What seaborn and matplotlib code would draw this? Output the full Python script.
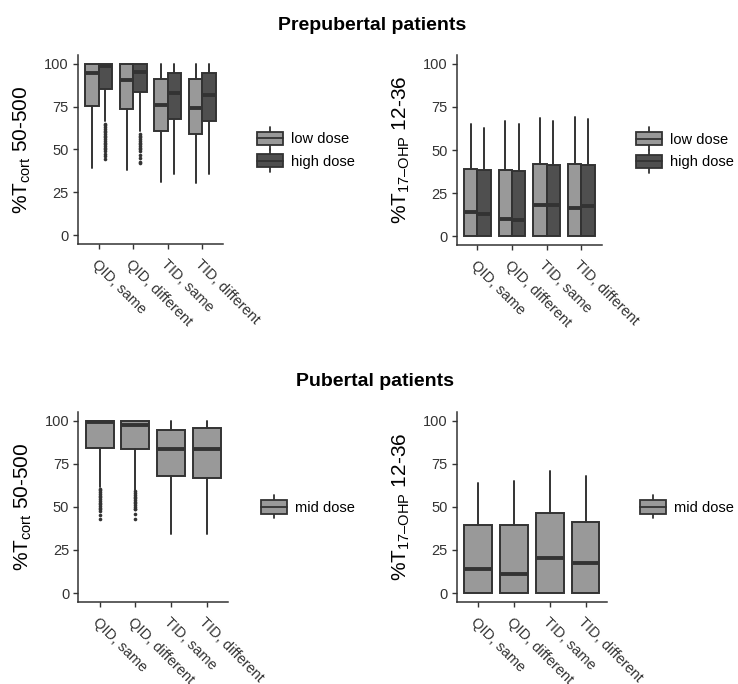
import matplotlib
matplotlib.use("Agg")
import matplotlib.pyplot as plt
import seaborn as sns
from matplotlib.legend_handler import HandlerBase
from matplotlib.patches import Rectangle, Patch
from matplotlib.lines import Line2D

# ---------------------------------------------------------------- data
categories = ["QID, same", "QID, different", "TID, same", "TID, different"]

# Prepubertal, %T cort 50-500
pre_cort_low_q1 = [75.4, 73.3, 60.9, 58.8]
pre_cort_low_med = [94.5, 90.7, 75.8, 74.3]
pre_cort_low_q3 = [100.0, 100.0, 91.3, 91.1]
pre_cort_low_wlo = [39.1, 38.1, 31.3, 30.4]
pre_cort_low_whi = [100.0, 100.0, 100.0, 100.0]
pre_cort_low_fliers = [[], [], [], []]

pre_cort_high_q1 = [85.5, 83.5, 67.7, 66.7]
pre_cort_high_med = [98.7, 95.1, 83.0, 81.6]
pre_cort_high_q3 = [100.0, 100.0, 94.6, 94.8]
pre_cort_high_wlo = [66.5, 60.5, 35.6, 35.6]
pre_cort_high_whi = [100.0, 100.0, 100.0, 100.0]
pre_cort_high_fliers = [
    [65, 64, 63, 62, 61, 60, 59, 58, 57, 56, 55, 54, 53, 52, 51, 50, 49, 47.5, 46, 44.5],
    [59, 58, 57, 56, 55, 54, 53, 52, 51, 50, 49, 47, 45, 43, 42],
    [],
    [],
]

# Prepubertal, %T 17-OHP 12-36
pre_ohp_low_q1 = [0.0, 0.0, 0.0, 0.0]
pre_ohp_low_med = [14.0, 10.0, 17.9, 16.7]
pre_ohp_low_q3 = [39.0, 38.4, 41.9, 42.1]
pre_ohp_low_wlo = [0.0, 0.0, 0.0, 0.0]
pre_ohp_low_whi = [64.8, 66.9, 68.3, 69.2]

pre_ohp_high_q1 = [0.0, 0.0, 0.0, 0.0]
pre_ohp_high_med = [12.9, 9.4, 18.1, 17.3]
pre_ohp_high_q3 = [38.4, 37.8, 41.3, 41.1]
pre_ohp_high_wlo = [0.0, 0.0, 0.0, 0.0]
pre_ohp_high_whi = [62.9, 64.8, 66.7, 67.9]

# Pubertal, %T cort 50-500
pub_cort_q1 = [84.2, 83.6, 67.7, 66.9]
pub_cort_med = [99.2, 97.6, 83.6, 83.6]
pub_cort_q3 = [100.0, 100.0, 94.4, 95.8]
pub_cort_wlo = [61.5, 60.0, 34.4, 34.4]
pub_cort_whi = [100.0, 100.0, 100.0, 100.0]
pub_cort_fliers = [
    [60.5, 59.5, 58.5, 57.5, 56.5, 55.5, 54.5, 53.5, 52.5, 51.5, 50.5, 49.5, 48.5, 47.5, 45, 43],
    [59, 58, 57, 56, 55, 54, 53, 52, 51, 50, 49, 48.5, 46, 43],
    [],
    [],
]

# Pubertal, %T 17-OHP 12-36
pub_ohp_q1 = [0.0, 0.0, 0.0, 0.0]
pub_ohp_med = [13.9, 11.0, 20.6, 17.7]
pub_ohp_q3 = [39.5, 39.5, 46.6, 41.2]
pub_ohp_wlo = [0.0, 0.0, 0.0, 0.0]
pub_ohp_whi = [63.6, 64.7, 70.7, 67.8]

y_ticks = [0, 25, 50, 75, 100]

# ---------------------------------------------------------------- style
sns.set_theme(style="ticks")
plt.rcParams["font.family"] = ["Liberation Sans", "DejaVu Sans"]
plt.rcParams["mathtext.fontset"] = "custom"
plt.rcParams["mathtext.rm"] = "Liberation Sans"
plt.rcParams["mathtext.it"] = "Liberation Sans:italic"
plt.rcParams["mathtext.bf"] = "Liberation Sans:bold"

EDGE = "#333333"
LOW = "#999999"
HIGH = "#4f4f4f"
MID = "#999999"
TEXT = "#333333"

W, H = 738, 684
fig = plt.figure(figsize=(W / 100, H / 100), dpi=100)


def axes_px(left, right, top, bottom):
    return fig.add_axes([left / W, 1 - bottom / H, (right - left) / W, (bottom - top) / H])


def make_stats(q1, med, q3, wlo, whi, fliers=None):
    out = []
    for i in range(len(q1)):
        out.append(dict(q1=q1[i], med=med[i], q3=q3[i], whislo=wlo[i], whishi=whi[i],
                        fliers=(fliers[i] if fliers else [])))
    return out


def draw_boxes(ax, stats, offset, width, color):
    ax.bxp(stats, positions=[i + offset for i in range(len(stats))], widths=width,
           patch_artist=True, showcaps=False, manage_ticks=False,
           boxprops=dict(facecolor=color, edgecolor=EDGE, linewidth=1.4),
           medianprops=dict(color=EDGE, linewidth=2.8, solid_capstyle="butt"),
           whiskerprops=dict(color=EDGE, linewidth=1.4),
           flierprops=dict(marker="o", markersize=2.6, markerfacecolor=EDGE,
                           markeredgecolor="none", linestyle="none"))


class BoxKey(HandlerBase):
    def create_artists(self, legend, orig_handle, xdescent, ydescent, width, height,
                       fontsize, trans):
        face = orig_handle.get_facecolor()
        x0 = -xdescent
        cy = -ydescent + height / 2
        bh = 13.4 * 72 / 100
        wh = 11.5 * 72 / 100
        cx = x0 + width / 2
        w1 = Line2D([cx, cx], [cy + bh / 2, cy + wh], color=EDGE, lw=1.3, transform=trans)
        w2 = Line2D([cx, cx], [cy - wh, cy - bh / 2], color=EDGE, lw=1.3, transform=trans)
        rect = Rectangle((x0, cy - bh / 2), width, bh, facecolor=face, edgecolor=EDGE,
                         lw=1.3, transform=trans)
        med = Line2D([x0, x0 + width], [cy, cy], color=EDGE, lw=1.3, transform=trans)
        return [w1, w2, rect, med]


def style_axis(ax, ylabel, labels, colors, legend_dx_px):
    ax.set_xlim(-0.6, 3.6)
    ax.set_ylim(-5, 105)
    ax.set_yticks(y_ticks)
    ax.set_xticks(range(len(categories)))
    ax.set_xticklabels(categories, rotation=-45, ha="left", va="top",
                       rotation_mode="anchor", fontsize=10.5, color=TEXT)
    ax.tick_params(axis="both", length=3.5, width=1.0, color=EDGE, labelsize=10.5,
                   labelcolor=TEXT, pad=3)
    ax.tick_params(axis="x", pad=6)
    sns.despine(ax=ax)
    for s in ("left", "bottom"):
        ax.spines[s].set_color(EDGE)
        ax.spines[s].set_linewidth(1.1)
    ax.set_ylabel(ylabel, fontsize=15, color="black", labelpad=8)
    ax.set_xlabel("")
    ax.grid(False)
    handles = [Patch(facecolor=c) for c in colors]
    width_px = ax.get_position().width * W
    leg = ax.legend(handles, labels, handler_map={Patch: BoxKey()}, loc="center left",
                    bbox_to_anchor=(1 + legend_dx_px / width_px, 0.5), frameon=False,
                    borderpad=0, borderaxespad=0, fontsize=10.5, handlelength=1.75,
                    handleheight=1.3, handletextpad=0.55, labelspacing=0.45)
    for t in leg.get_texts():
        t.set_color("black")


cort_label = r"%T$_{\mathregular{cort}}$ 50-500"
ohp_label = "%T$_{\\mathregular{17\u2013OHP}}$ 12-36"

# Prepubertal, cortisol
ax1 = axes_px(78, 223, 55, 244)
draw_boxes(ax1, make_stats(pre_cort_low_q1, pre_cort_low_med, pre_cort_low_q3,
                           pre_cort_low_wlo, pre_cort_low_whi, pre_cort_low_fliers),
           -0.1925, 0.385, LOW)
draw_boxes(ax1, make_stats(pre_cort_high_q1, pre_cort_high_med, pre_cort_high_q3,
                           pre_cort_high_wlo, pre_cort_high_whi, pre_cort_high_fliers),
           0.1925, 0.385, HIGH)
style_axis(ax1, cort_label, ["low dose", "high dose"], [LOW, HIGH], 34)

# Prepubertal, 17-OHP
ax2 = axes_px(456.7, 602, 55, 245)
draw_boxes(ax2, make_stats(pre_ohp_low_q1, pre_ohp_low_med, pre_ohp_low_q3,
                           pre_ohp_low_wlo, pre_ohp_low_whi), -0.1925, 0.385, LOW)
draw_boxes(ax2, make_stats(pre_ohp_high_q1, pre_ohp_high_med, pre_ohp_high_q3,
                           pre_ohp_high_wlo, pre_ohp_high_whi), 0.1925, 0.385, HIGH)
style_axis(ax2, ohp_label, ["low dose", "high dose"], [LOW, HIGH], 34)

# Pubertal, cortisol
ax3 = axes_px(78.3, 228, 412, 601.7)
draw_boxes(ax3, make_stats(pub_cort_q1, pub_cort_med, pub_cort_q3, pub_cort_wlo,
                           pub_cort_whi, pub_cort_fliers), 0.0, 0.78, MID)
style_axis(ax3, cort_label, ["mid dose"], [MID], 33)

# Pubertal, 17-OHP
ax4 = axes_px(456.7, 607, 412, 601.7)
draw_boxes(ax4, make_stats(pub_ohp_q1, pub_ohp_med, pub_ohp_q3, pub_ohp_wlo,
                           pub_ohp_whi), 0.0, 0.78, MID)
style_axis(ax4, ohp_label, ["mid dose"], [MID], 33)

fig.text(372 / W, 1 - 25 / H, "Prepubertal patients", ha="center", va="center",
         fontsize=14, fontweight="bold", color="black")
fig.text(375 / W, 1 - 382 / H, "Pubertal patients", ha="center", va="center",
         fontsize=14, fontweight="bold", color="black")

fig.savefig("out.png", dpi=100, facecolor="white")
